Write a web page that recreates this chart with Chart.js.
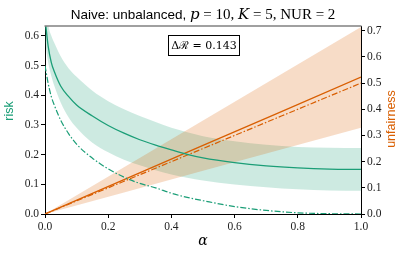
<!DOCTYPE html>
<html>
<head>
<meta charset="utf-8">
<script src="https://cdn.jsdelivr.net/npm/chart.js@4"></script>
<style>
  html, body { margin: 0; padding: 0; background: #fff; }
</style>
</head>
<body>
<canvas id="chart" width="407" height="256"></canvas>
<script>
// risk curves (left axis)
const alphaRisk = [0, 0.01, 0.02, 0.03, 0.05, 0.075, 0.1, 0.15, 0.2, 0.25, 0.3, 0.35, 0.4, 0.45, 0.5, 0.6, 0.7, 0.8, 0.9, 1.0];
const riskMean  = [0.66, 0.565, 0.51, 0.478, 0.43, 0.395, 0.367, 0.33, 0.298, 0.272, 0.25, 0.232, 0.216, 0.201, 0.189, 0.173, 0.162, 0.155, 0.151, 0.15];
const riskUpper = [0.75, 0.64, 0.6, 0.575, 0.53, 0.49, 0.462, 0.415, 0.38, 0.353, 0.33, 0.31, 0.29, 0.275, 0.262, 0.245, 0.233, 0.226, 0.223, 0.222];
const riskLower = [0.58, 0.51, 0.465, 0.43, 0.375, 0.325, 0.29, 0.24, 0.208, 0.183, 0.164, 0.147, 0.133, 0.122, 0.113, 0.099, 0.09, 0.083, 0.079, 0.078];
const riskBase  = [0.5, 0.44, 0.395, 0.365, 0.315, 0.27, 0.235, 0.188, 0.152, 0.124, 0.103, 0.088, 0.07, 0.056, 0.045, 0.025, 0.012, 0.004, 0.001, 0];

// unfairness lines (right axis)
const alphaUnf = [0, 0.25, 0.5, 0.75, 1.0];
const unfMean  = [0, 0.131, 0.262, 0.392, 0.523];
const unfBase  = [0, 0.125, 0.25, 0.375, 0.5];
const unfUpper = [0, 0.179, 0.357, 0.536, 0.714];
const unfLower = [0, 0.082, 0.165, 0.247, 0.329];

const xTicks = [0, 0.2, 0.4, 0.6, 0.8, 1.0];
const riskTicks = [0, 0.1, 0.2, 0.3, 0.4, 0.5, 0.6];
const unfTicks = [0, 0.1, 0.2, 0.3, 0.4, 0.5, 0.6, 0.7];

const GREEN = "#1b9e77";
const ORANGE = "#d95f02";
const tickFont = { family: "Liberation Serif", size: 11.5 };

const pts = (xs, ys) => xs.map((x, i) => ({ x: x, y: ys[i] }));

const decorations = {
  id: "decorations",
  afterDraw(chart) {
    const ctx = chart.ctx;
    const a = chart.chartArea;
    ctx.save();

    // top spine
    ctx.strokeStyle = "#808080";
    ctx.lineWidth = 1.5;
    ctx.beginPath();
    ctx.moveTo(a.left - 0.5, a.top);
    ctx.lineTo(a.right + 0.5, a.top);
    ctx.stroke();

    // title, mixed text and math
    const runs = [
      ["Naive: unbalanced, ", "13.5px 'Liberation Sans'"],
      ["p", "italic 15px 'DejaVu Serif'"],
      [" = 10, ", "15px 'Liberation Serif'"],
      ["K", "italic 15px 'DejaVu Serif'"],
      [" = 5, ", "15px 'Liberation Serif'"],
      ["NUR", "15px 'Liberation Serif'"],
      [" = 2", "15px 'Liberation Serif'"]
    ];
    let total = 0;
    runs.forEach(r => { ctx.font = r[1]; total += ctx.measureText(r[0]).width; });
    let x = (a.left + a.right) / 2 - total / 2;
    ctx.fillStyle = "#000";
    ctx.textBaseline = "alphabetic";
    ctx.textAlign = "left";
    runs.forEach(r => {
      ctx.font = r[1];
      ctx.fillText(r[0], x, 19);
      x += ctx.measureText(r[0]).width;
    });

    // axis titles
    ctx.textAlign = "center";
    ctx.textBaseline = "middle";
    ctx.font = "12.5px 'Liberation Sans'";
    ctx.fillStyle = GREEN;
    ctx.save();
    ctx.translate(10, 111);
    ctx.rotate(-Math.PI / 2);
    ctx.fillText("risk", 0, 0);
    ctx.restore();

    ctx.fillStyle = ORANGE;
    ctx.save();
    ctx.translate(392, 119);
    ctx.rotate(-Math.PI / 2);
    ctx.fillText("unfairness", 0, 0);
    ctx.restore();

    ctx.fillStyle = "#000";
    ctx.font = "italic 14px 'DejaVu Serif'";
    ctx.fillText("\u03b1", (a.left + a.right) / 2, 241);

    // delta R box
    ctx.strokeStyle = "#000";
    ctx.lineWidth = 1;
    ctx.fillStyle = "#fff";
    ctx.fillRect(168.5, 35.5, 71, 20);
    ctx.strokeRect(168.5, 35.5, 71, 20);
    ctx.fillStyle = "#000";
    ctx.font = "11px 'DejaVu Serif'";
    ctx.fillText("\u0394\u211b = 0.143", 204, 46);

    ctx.restore();
  }
};

new Chart(document.getElementById("chart"), {
  type: "line",
  data: {
    datasets: [
      { data: pts(alphaRisk, riskMean), yAxisID: "y", borderColor: GREEN, borderWidth: 1.3, cubicInterpolationMode: "monotone", fill: false },
      { data: pts(alphaRisk, riskBase), yAxisID: "y", borderColor: GREEN, borderWidth: 1.2, borderDash: [6, 2, 1.5, 2], cubicInterpolationMode: "monotone", fill: false },
      { data: pts(alphaUnf, unfMean), yAxisID: "y1", borderColor: ORANGE, borderWidth: 1.3, fill: false },
      { data: pts(alphaUnf, unfBase), yAxisID: "y1", borderColor: ORANGE, borderWidth: 1.2, borderDash: [6, 2, 1.5, 2], fill: false },
      { data: pts(alphaUnf, unfUpper), yAxisID: "y1", borderWidth: 0, borderColor: "rgba(0,0,0,0)", backgroundColor: "rgba(217,95,2,0.22)", fill: "+1" },
      { data: pts(alphaUnf, unfLower), yAxisID: "y1", borderWidth: 0, borderColor: "rgba(0,0,0,0)", fill: false },
      { data: pts(alphaRisk, riskUpper), yAxisID: "y", borderWidth: 0, borderColor: "rgba(0,0,0,0)", backgroundColor: "rgba(27,158,119,0.22)", cubicInterpolationMode: "monotone", fill: "+1" },
      { data: pts(alphaRisk, riskLower), yAxisID: "y", borderWidth: 0, borderColor: "rgba(0,0,0,0)", cubicInterpolationMode: "monotone", fill: false }
    ]
  },
  options: {
    responsive: false,
    animation: false,
    events: [],
    layout: { padding: { top: 26, left: 0, right: 0, bottom: 0 } },
    elements: { point: { radius: 0 } },
    plugins: { legend: { display: false }, tooltip: { enabled: false } },
    scales: {
      x: {
        type: "linear", min: 0, max: 1,
        afterBuildTicks: s => { s.ticks = xTicks.map(v => ({ value: v })); },
        afterFit: s => { s.height = 42; },
        ticks: { font: tickFont, color: "#222", padding: 2, maxRotation: 0, callback: v => v.toFixed(1) },
        grid: { drawOnChartArea: false, tickLength: 4, tickColor: "#000" },
        border: { color: "#000", width: 1 }
      },
      y: {
        position: "left", min: 0, max: 0.633,
        afterBuildTicks: s => { s.ticks = riskTicks.map(v => ({ value: v })); },
        afterFit: s => { s.width = 45; },
        ticks: { font: tickFont, color: "#222", padding: 2, callback: v => v.toFixed(1) },
        grid: { drawOnChartArea: false, tickLength: 4, tickColor: "#000" },
        border: { color: "#000", width: 1 }
      },
      y1: {
        position: "right", min: 0, max: 0.718,
        afterBuildTicks: s => { s.ticks = unfTicks.map(v => ({ value: v })); },
        afterFit: s => { s.width = 46; },
        ticks: { font: tickFont, color: "#222", padding: 2, callback: v => v.toFixed(1) },
        grid: { drawOnChartArea: false, tickLength: 4, tickColor: "#000" },
        border: { color: "#000", width: 1 }
      }
    }
  },
  plugins: [decorations]
});
</script>
</body>
</html>
